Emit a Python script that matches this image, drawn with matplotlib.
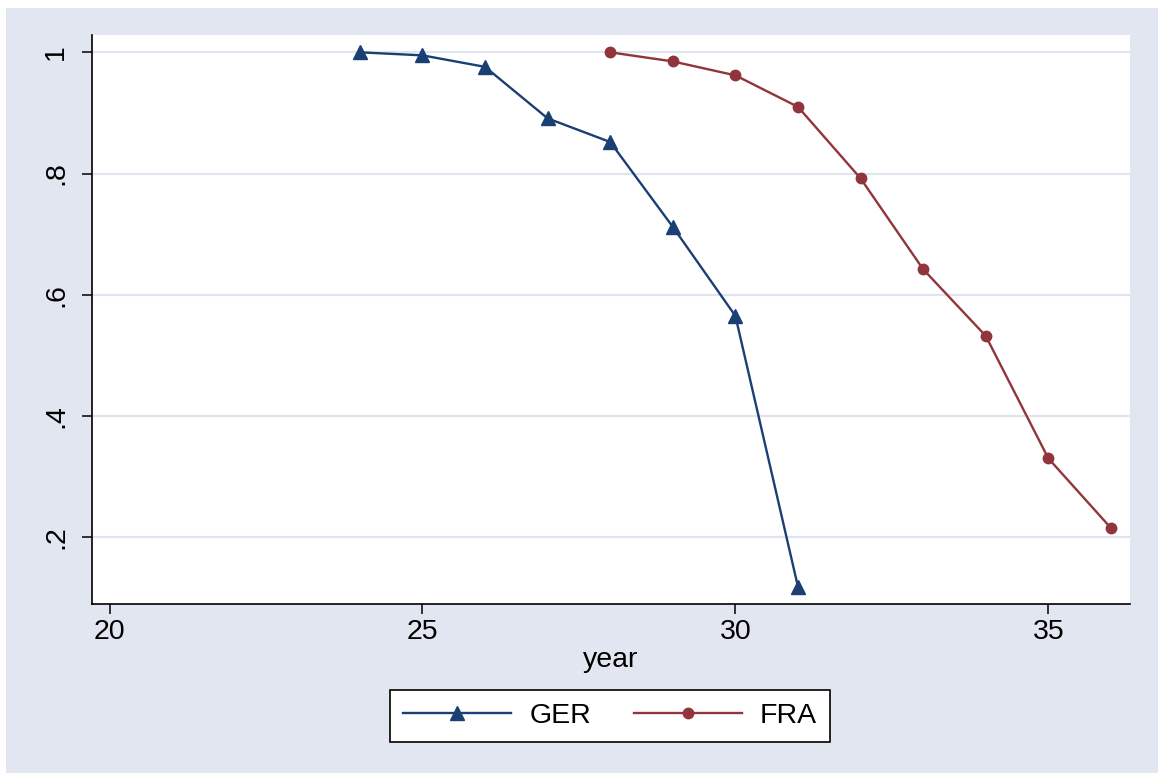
# -------------------------------------------------------------------------------------
# Library
import numpy as np
import matplotlib
matplotlib.use('Agg')
import matplotlib.pyplot as plt
from matplotlib.patches import Rectangle
# -------------------------------------------------------------------------------------


# -------------------------------------------------------------------------------------
# Data
ger_year = [24, 25, 26, 27, 28, 29, 30, 31]
ger_value = [1.0, 0.995, 0.976, 0.891, 0.852, 0.712, 0.565, 0.118]

fra_year = [28, 29, 30, 31, 32, 33, 34, 35, 36]
fra_value = [1.0, 0.985, 0.962, 0.910, 0.792, 0.642, 0.532, 0.330, 0.215]

x_ticks = [20, 25, 30, 35]
y_ticks = [0.2, 0.4, 0.6, 0.8, 1.0]
y_tick_labels = ['.2', '.4', '.6', '.8', '1']
# -------------------------------------------------------------------------------------


# -------------------------------------------------------------------------------------
# Style
color_bg = '#E1E6F0'
color_grid = '#DFE4EE'
color_ger = '#1A3F73'
color_fra = '#90353B'
font_size = 20.5

plt.rcParams['font.family'] = ['Liberation Sans', 'DejaVu Sans']
# -------------------------------------------------------------------------------------


# -------------------------------------------------------------------------------------
# Figure
fig = plt.figure(figsize=(11.58, 7.73), dpi=100)
fig.patch.set_facecolor('white')
bg = Rectangle((6 / 1158, 0), 1 - 6 / 1158, 1 - 8 / 773,
               transform=fig.transFigure, facecolor=color_bg,
               edgecolor='none', zorder=-10)
fig.add_artist(bg)

ax = fig.add_axes([92 / 1158, 1 - 604 / 773, (1130 - 92) / 1158, (604 - 35) / 773])
ax.set_facecolor('white')

ax.plot(ger_year, ger_value, color=color_ger, lw=1.7, marker='^', markersize=9.5,
        label='GER', zorder=3)
ax.plot(fra_year, fra_value, color=color_fra, lw=1.7, marker='o', markersize=7.5,
        label='FRA', zorder=3)

ax.set_xlim(19.72, 36.305)
ax.set_ylim(0.0896, 1.0286)

ax.set_xticks(x_ticks)
ax.set_yticks(y_ticks)
ax.set_yticklabels(y_tick_labels, rotation=90, va='center')
ax.tick_params(axis='both', labelsize=font_size, length=7.5, width=1.1, color='black')
ax.tick_params(axis='x', pad=3)
ax.tick_params(axis='y', pad=9)

ax.grid(axis='y', color=color_grid, lw=1.6, zorder=1)
ax.grid(axis='x', visible=False)

for side in ['top', 'right']:
    ax.spines[side].set_visible(False)
for side in ['left', 'bottom']:
    ax.spines[side].set_linewidth(1.2)

ax.set_xlabel('year', fontsize=font_size, labelpad=2)

leg = fig.legend(loc='center', bbox_to_anchor=(610 / 1158, 1 - 716 / 773), ncol=2,
                 fontsize=font_size, frameon=True, fancybox=False, edgecolor='black',
                 framealpha=1, handlelength=3.8, handletextpad=0.63, columnspacing=1.5,
                 borderpad=0.45, borderaxespad=0)
leg.get_frame().set_linewidth(1.2)
leg.get_frame().set_facecolor('white')

fig.savefig('out.png', dpi=100, facecolor=fig.get_facecolor())
# -------------------------------------------------------------------------------------
